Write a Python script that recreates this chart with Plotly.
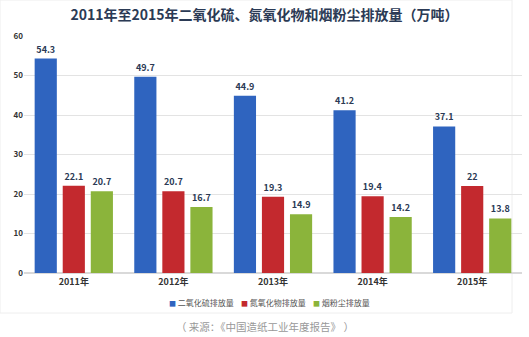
import plotly.graph_objects as go

years = ["2011年", "2012年", "2013年", "2014年", "2015年"]
so2 = [54.3, 49.7, 44.9, 41.2, 37.1]
nox = [22.1, 20.7, 19.3, 19.4, 22]
dust = [20.7, 16.7, 14.9, 14.2, 13.8]
series_names = ["二氧化硫排放量", "氮氧化物排放量", "烟粉尘排放量"]
colors = ["#2F64BF", "#C3292E", "#8BB43B"]
y_ticks = [0, 10, 20, 30, 40, 50, 60]

font_fam = "Noto Sans CJK SC, Noto Sans, sans-serif"
label_color = "#2B3A55"

fig = go.Figure()
for name, vals, col in zip(series_names, [so2, nox, dust], colors):
    fig.add_trace(go.Bar(
        x=years, y=vals, name=name,
        marker=dict(color=col, line=dict(width=0)),
        text=[f"{v:g}" for v in vals],
        textposition="outside",
        cliponaxis=False,
        textfont=dict(size=9, color=label_color, family=font_fam, weight="bold"),
    ))

fig.update_layout(
    width=529, height=337,
    margin=dict(l=24, r=7, t=36, b=64),
    paper_bgcolor="white", plot_bgcolor="white",
    barmode="group", bargap=0.155, bargroupgap=0.21,
    font=dict(family=font_fam, color="#333333"),
    title=dict(
        text="2011年至2015年二氧化硫、氮氧化物和烟粉尘排放量（万吨）",
        x=0.5, xanchor="center", y=1 - 15 / 337, yanchor="middle",
        font=dict(size=14, color="#2B3A55", family=font_fam, weight="bold"),
    ),
    showlegend=False,
    xaxis=dict(
        showgrid=False, showline=True, linecolor="#D9D9D9", linewidth=1,
        tickfont=dict(size=9, color="#333333", family=font_fam, weight="bold"),
        ticks="",
    ),
    yaxis=dict(
        range=[0, 60], tickvals=y_ticks, showgrid=True, gridcolor="#E3E3E3",
        gridwidth=1, zeroline=True, zerolinecolor="#D9D9D9", showline=False,
        tickfont=dict(size=8, color="#333333", family=font_fam, weight="bold"),
        ticks="",
    ),
)

legend_html = "&nbsp;&nbsp;&nbsp;&nbsp;".join(
    f'<span style="color:{c}; font-size:7px">■</span> {n}' for n, c in zip(series_names, colors)
)
fig.add_annotation(
    text=legend_html,
    xref="paper", yref="paper", x=(269 - 24) / 498, y=-29 / 237,
    xanchor="center", yanchor="middle", showarrow=False,
    font=dict(size=8, color="#555555", family=font_fam),
)

fig.add_annotation(
    text="（ 来源：《中国造纸工业年度报告》 ）",
    xref="paper", yref="paper", x=(265 - 24) / 498, y=-53 / 237,
    xanchor="center", yanchor="middle",
    showarrow=False, font=dict(size=10.5, color="#999999", family=font_fam),
)
fig.add_shape(
    type="rect", xref="paper", yref="paper",
    x0=-24 / 498, x1=1.0 - 10 / 498, y0=-40 / 237, y1=1 + 36 / 237,
    line=dict(color="#EEEEEE", width=1), layer="below",
)

fig.write_html("out.html")
